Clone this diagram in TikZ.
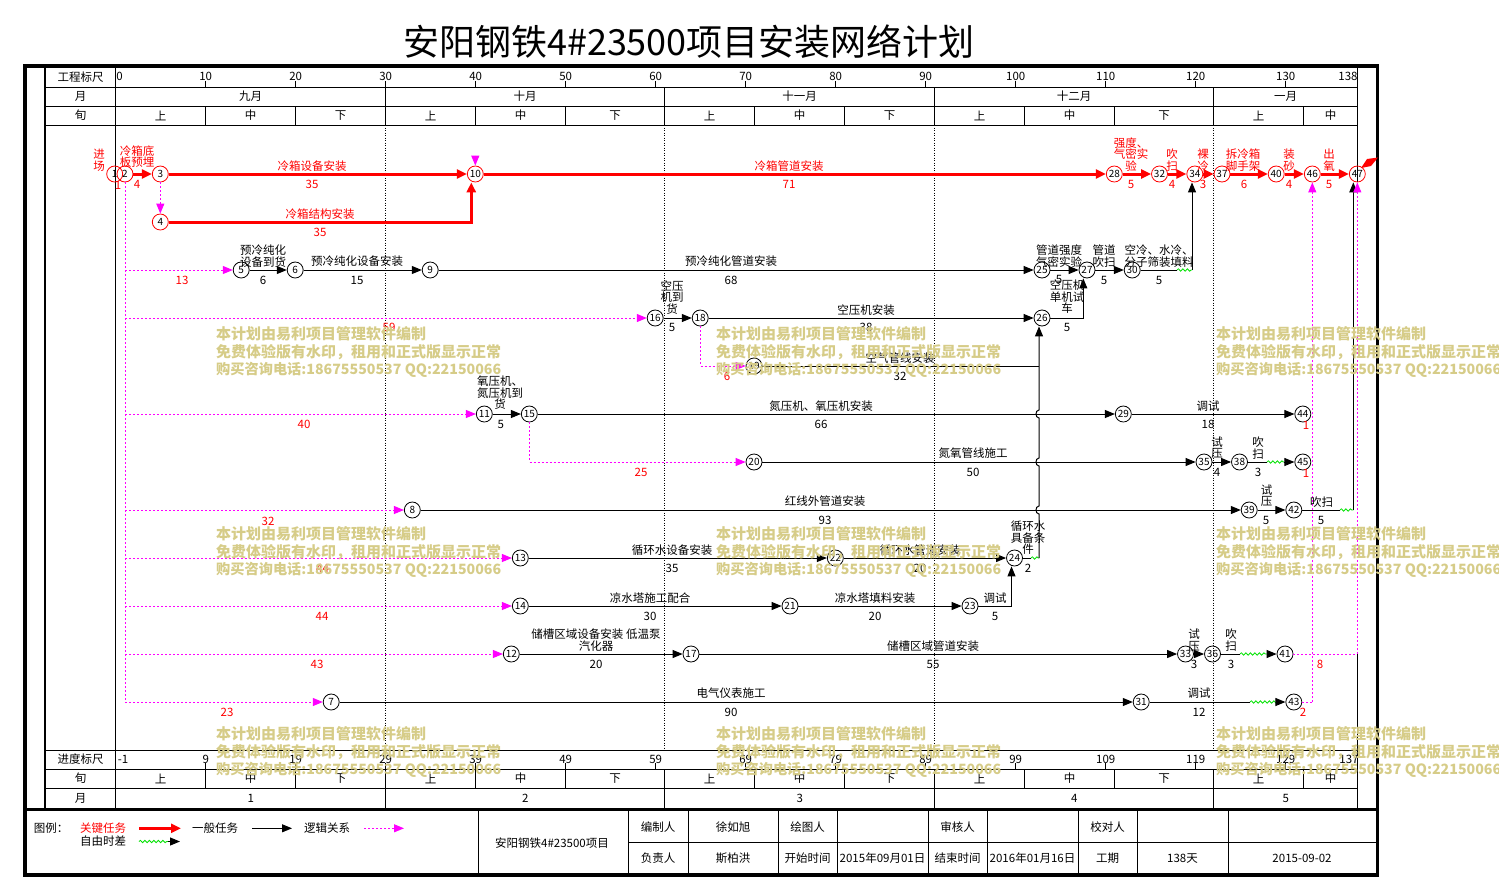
\documentclass[tikz,border=0pt]{standalone}
\usepackage{fontspec}
\setmainfont{Noto Sans CJK SC}
\usetikzlibrary{arrows.meta,decorations.pathmorphing}
\definecolor{mag}{RGB}{255,0,255}
\definecolor{wmc}{RGB}{214,204,136}
\definecolor{grn}{RGB}{0,225,0}
\tikzset{
  ev/.style={circle,draw,line width=0.8pt,minimum size=16pt,inner sep=0pt,font=\fontsize{10}{10}\selectfont},
  evr/.style={ev,draw=red},
  tx/.style={inner sep=0pt,align=center,font=\fontsize{11.5}{11.5}\selectfont},
  txr/.style={tx,text=red},
  numr/.style={tx,text=red},
  cedge/.style={draw=red,line width=3pt,-{Triangle[length=10pt,width=9pt]}},
  nedge/.style={draw=black,line width=1pt,-{Triangle[length=10pt,width=8pt]}},
  nline/.style={draw=black,line width=1pt},
  ledge/.style={draw=mag,line width=1pt,dash pattern=on 2pt off 2pt,-{Triangle[length=10pt,width=8pt]}},
  lline/.style={draw=mag,line width=1pt,dash pattern=on 2pt off 2pt},
  wavy/.style={draw=grn,line width=0.8pt,decorate,decoration={snake,amplitude=1.2pt,segment length=4.5pt}},
  grid/.style={line width=0.9pt},
  mdot/.style={line width=0.8pt,dash pattern=on 1pt off 1.5pt},
  wm/.style={text=wmc,font=\fontsize{15}{18}\selectfont\bfseries,anchor=west,inner sep=0pt},
  wmsmall/.style={wm,font=\fontsize{14.2}{18}\selectfont\bfseries},
}
\begin{document}
\begin{tikzpicture}[x=1pt,y=-1pt]
\useasboundingbox (0,0) rectangle (1499,878);
% title
\node[font=\fontsize{36}{36}\selectfont,inner sep=0pt] (title) at (689,42) {安阳钢铁4\#23500项目安装网络计划};
% frame
\draw[line width=3.5pt] (25,66) rectangle (1377.5,875);
\draw[line width=3pt] (25,809.5) -- (1377.5,809.5);
\draw[line width=1.5pt] (45,66) -- (45,809.5);
\draw[grid] (115.7,66) -- (115.7,809.5);
\draw[grid] (1357.3,66) -- (1357.3,182);
\draw[grid] (1357.3,654) -- (1357.3,809.5);
\foreach \y in {87,106,125,750,769,788} \draw[grid] (45,\y) -- (1357.3,\y);
% left column
\node[tx] (hc1) at (80.5,77) {工程标尺};
\node[tx] (hc2) at (80.5,96.5) {月};
\node[tx] (hc3) at (80.5,115.5) {旬};
\node[tx] (hc4) at (80.5,759) {进度标尺};
\node[tx] (hc5) at (80.5,778.5) {旬};
\node[tx] (hc6) at (80.5,798) {月};
% scales
\node[tx] (tt0) at (119.5,76.7) {0};
\node[tx] (tt14) at (1348,76.7) {138};
\node[tx] (tb0) at (123,759.3) {-1};
\node[tx] (tb14) at (1349,759.3) {137};
\foreach \k in {1,...,13}{
  \pgfmathsetmacro{\xx}{115.7+90*\k}
  \pgfmathtruncatemacro{\lt}{10*\k}
  \pgfmathtruncatemacro{\lb}{10*\k-1}
  \draw[grid] (\xx,81) -- (\xx,87);
  \draw[grid] (\xx,763) -- (\xx,769);
  \node[tx] (tt\k) at (\xx,76.7) {\lt};
  \node[tx] (tb\k) at (\xx,759.3) {\lb};
}
\foreach \d/\t [count=\i] in {5/上,15/中,25/下,35/上,45/中,55.5/下,66/上,76/中,86/下,96/上,106/中,116.5/下,127/上,135/中}{
  \node[tx] (xa\i) at (115.7+9*\d,115.5) {\t};
  \node[tx] (xb\i) at (115.7+9*\d,778.5) {\t};
}
\foreach \d/\t/\b [count=\i] in {15/九月/1,45.5/十月/2,76/十一月/3,106.5/十二月/4,130/一月/5}{
  \node[tx] (ma\i) at (115.7+9*\d,96.5) {\t};
  \node[tx] (mb\i) at (115.7+9*\d,798) {\b};
}
\foreach \d in {30,61,91,122}{
  \draw[grid] (115.7+9*\d,87) -- (115.7+9*\d,125);
  \draw[grid] (115.7+9*\d,769) -- (115.7+9*\d,809);
  \draw[mdot] (115.7+9*\d,125) -- (115.7+9*\d,750);
}
\foreach \d in {10,20,40,50,71,81,101,111,132}{
  \draw[grid] (115.7+9*\d,106) -- (115.7+9*\d,125);
  \draw[grid] (115.7+9*\d,769) -- (115.7+9*\d,788);
}
% ---------- events ----------
\node[evr] (n1) at (114.7,174) {1};
\node[evr] (n2) at (125,174) {2};
\node[evr] (n3) at (160.3,174) {3};
\node[evr] (n10) at (475.3,174) {10};
\node[evr] (n28) at (1114.3,174) {28};
\node[evr] (n32) at (1159.5,174) {32};
\node[evr] (n34) at (1194.8,174) {34};
\node[evr] (n37) at (1222,174) {37};
\node[evr] (n40) at (1276.2,174) {40};
\node[evr] (n46) at (1312.3,174) {46};
\node[evr] (n47) at (1357.3,174) {47};
\node[evr] (n4) at (160.3,222) {4};
\node[ev] (n5) at (241.2,270) {5};
\node[ev] (n6) at (295.2,270) {6};
\node[ev] (n9) at (430.2,270) {9};
\node[ev] (n25) at (1042,270) {25};
\node[ev] (n27) at (1087,270) {27};
\node[ev] (n30) at (1132.2,270) {30};
\node[ev] (n16) at (655.2,318) {16};
\node[ev] (n18) at (700.2,318) {18};
\node[ev] (n26) at (1042,318) {26};
\node[ev] (n19) at (754,366) {19};
\node[ev] (n11) at (484.3,414) {11};
\node[ev] (n15) at (529.3,414) {15};
\node[ev] (n29) at (1123.3,414) {29};
\node[ev] (n44) at (1302.8,414) {44};
\node[ev] (n20) at (754,462) {20};
\node[ev] (n35) at (1204,462) {35};
\node[ev] (n38) at (1239.5,462) {38};
\node[ev] (n45) at (1302.8,462) {45};
\node[ev] (n8) at (412.3,510) {8};
\node[ev] (n39) at (1249.2,510) {39};
\node[ev] (n42) at (1293.8,510) {42};
\node[ev] (n13) at (520.3,558) {13};
\node[ev] (n22) at (835.3,558) {22};
\node[ev] (n24) at (1014.5,558) {24};
\node[ev] (n14) at (520.3,606) {14};
\node[ev] (n21) at (790,606) {21};
\node[ev] (n23) at (970,606) {23};
\node[ev] (n12) at (511.3,654) {12};
\node[ev] (n17) at (691,654) {17};
\node[ev] (n33) at (1185.5,654) {33};
\node[ev] (n36) at (1212.5,654) {36};
\node[ev] (n41) at (1285,654) {41};
\node[ev] (n7) at (331.2,702) {7};
\node[ev] (n31) at (1141.2,702) {31};
\node[ev] (n43) at (1293.8,702) {43};
% helper coordinates
\coordinate (cL) at (125,702);
\coordinate (cR) at (1312.3,702);
\coordinate (cR2) at (1357.3,654);
\coordinate (c30a) at (1177,270);
\coordinate (c30b) at (1192,270);
\coordinate (c19) at (1039,366);
\coordinate (c24a) at (1031,558);
\coordinate (c24b) at (1039,558);
\coordinate (c38a) at (1267,462);
\coordinate (c38b) at (1284,462);
\coordinate (c42a) at (1340,510);
\coordinate (c42b) at (1353.3,510);
\coordinate (c36a) at (1240,654);
\coordinate (c36b) at (1267,654);
\coordinate (c31a) at (1250,702);
\coordinate (c31b) at (1283,702);
% ---------- critical ----------
\draw[cedge] (n2) -- (n3);
\draw[cedge] (n3) -- (n10);
\draw[cedge] (n10) -- (n28);
\draw[cedge] (n28) -- (n32);
\draw[cedge] (n32) -- (n34);
\draw[cedge] (n34) -- (n37);
\draw[cedge] (n37) -- (n40);
\draw[cedge] (n40) -- (n46);
\draw[cedge] (n46) -- (n47);
\draw[cedge] (n4) -| ([xshift=-4pt]n10.south);
\fill[red] (1361,168) -- (1367,159) -- (1378,157.5) -- (1371,166) -- cycle;
% ---------- normal ----------
\draw[nedge] (n5) -- (n6);
\draw[nedge] (n6) -- (n9);
\draw[nedge] (n9) -- (n25);
\draw[nedge] (n25) -- (n27);
\draw[nedge] (n27) -- (n30);
\draw[nline] (n30) -- (c30a);
\draw[wavy] (c30a) -- (c30b);
\draw[nedge] (c30b) -- (c30b |- n34.south);
\draw[nedge] (n16) -- (n18);
\draw[nedge] (n18) -- (n26);
\draw[nedge] (n26) -| ([xshift=-3.7pt]n27.south);
\draw[nline] (n19) -- (c19);
\draw[nline] (n24) -- (c24a);
\draw[wavy] (c24a) -- (c24b);
\draw[nedge] (c24b) -- (1039,514) .. controls (1035,514) and (1035,506) .. (1039,506)
  -- (1039,466) .. controls (1035,466) and (1035,458) .. (1039,458)
  -- (1039,418) .. controls (1035,418) and (1035,410) .. (1039,410)
  -- (c24b |- n26.south);
\draw[nedge] (n11) -- (n15);
\draw[nedge] (n15) -- (n29);
\draw[nedge] (n29) -- (n44);
\draw[nedge] (n20) -- (n35);
\draw[nedge] (n35) -- (n38);
\draw[nline] (n38) -- (c38a);
\draw[wavy] (c38a) -- (c38b);
\draw[nedge] (c38b) -- (n45);
\draw[nedge] (n8) -- (n39);
\draw[nedge] (n39) -- (n42);
\draw[nline] (n42) -- (c42a);
\draw[wavy] (c42a) -- (c42b);
\draw[nedge] (c42b) -- (c42b |- n47.south);
\draw[nedge] (n13) -- (n22);
\draw[nedge] (n22) -- (n24);
\draw[nedge] (n14) -- (n21);
\draw[nedge] (n21) -- (n23);
\draw[nedge] (n23) -| ([xshift=-3pt]n24.south);
\draw[nedge] (n12) -- (n17);
\draw[nedge] (n17) -- (n33);
\draw[nedge] (n33) -- (n36);
\draw[nline] (n36) -- (c36a);
\draw[wavy] (c36a) -- (c36b);
\draw[nedge] (c36b) -- (n41);
\draw[nedge] (n7) -- (n31);
\draw[nline] (n31) -- (c31a);
\draw[wavy] (c31a) -- (c31b);
\draw[nedge] (c31b) -- (n43);
% ---------- logic ----------
\draw[ledge] (n3) -- (n4);
\draw[ledge] ([yshift=10pt]n10.north) -- (n10.north);
\draw[lline] (n2) -- (cL);
\foreach \t in {n5,n16,n11,n8,n13,n14,n12,n7} \draw[ledge] (cL |- \t) -- (\t);
\draw[ledge] (n15) |- (n20);
\draw[ledge] (n18) |- (n19);
\draw[lline] (n43) -- (cR);
\draw[ledge] (cR) -- (n46);
\draw[ledge] (n41) -- (cR2) -- (n47);
% ---------- labels ----------
\node[txr] (a1) at (99,160) {进\\场};
\node[numr] (a1d) at (118,185) {1};
\node[txr] (a2) at (137,156.5) {冷箱底\\板预埋};
\node[numr] (a2d) at (137,184) {4};
\node[txr] (a3) at (312,166) {冷箱设备安装};
\node[numr] (a3d) at (312,184) {35};
\node[txr] (a4) at (789,166) {冷箱管道安装};
\node[numr] (a4d) at (789,184) {71};
\node[txr] (a5) at (1131,154.5) {强度、\\气密实\\验};
\node[numr] (a5d) at (1131,184) {5};
\node[txr] (a6) at (1172,160) {吹\\扫};
\node[numr] (a6d) at (1172,184) {4};
\node[txr] (a7) at (1203,160) {裸\\冷};
\node[numr] (a7d) at (1203,184) {3};
\node[txr] (a8) at (1243,160) {拆冷箱\\脚手架};
\node[numr] (a8d) at (1244,184) {6};
\node[txr] (a9) at (1289,160) {装\\砂};
\node[numr] (a9d) at (1289,184) {4};
\node[txr] (a10) at (1329,160) {出\\氧};
\node[numr] (a10d) at (1329,184) {5};
\node[txr] (b1) at (320,214) {冷箱结构安装};
\node[numr] (b1d) at (320,232) {35};
\node[tx] (c1) at (263,256) {预冷纯化\\设备到货};
\node[tx] (c1d) at (263,280) {6};
\node[tx] (c2) at (357,261) {预冷纯化设备安装};
\node[tx] (c2d) at (357,280) {15};
\node[tx] (c3) at (731,261) {预冷纯化管道安装};
\node[tx] (c3d) at (731,280) {68};
\node[tx] (c4) at (1059,256) {管道强度\\气密实验};
\node[tx] (c4d) at (1059,279) {5};
\node[tx] (c5) at (1104,256) {管道\\吹扫};
\node[tx] (c5d) at (1104,280) {5};
\node[tx] (c6) at (1159,256) {空冷、水冷、\\分子筛装填料};
\node[tx] (c6d) at (1159,280) {5};
\node[numr] (c0) at (182,280) {13};
\node[tx] (d1) at (672,297.5) {空压\\机到\\货};
\node[tx] (d1d) at (672,327.7) {5};
\node[tx] (d2) at (866,310) {空压机安装};
\node[tx] (d2d) at (866,327.7) {38};
\node[tx] (d3) at (1067,297) {空压机\\单机试\\车};
\node[tx] (d3d) at (1067,327.7) {5};
\node[numr] (d0) at (389,327.7) {59};
\node[tx] (e1) at (900,358) {空气管线安装};
\node[tx] (e1d) at (900,376) {32};
\node[numr] (e0) at (727,376) {6};
\node[tx] (f1) at (500,393) {氧压机、\\氮压机到\\货};
\node[tx] (f1d) at (500.7,424) {5};
\node[tx] (f2) at (821,406) {氮压机、氧压机安装};
\node[tx] (f2d) at (821,424) {66};
\node[tx] (f3) at (1208,406) {调试};
\node[tx] (f3d) at (1208,424) {18};
\node[numr] (f0) at (304,424) {40};
\node[numr] (f4) at (1306,425) {1};
\node[tx] (g1) at (973,453) {氮氧管线施工};
\node[tx] (g1d) at (973,472) {50};
\node[tx] (g2) at (1217,447.5) {试\\压};
\node[tx] (g2d) at (1217,472) {4};
\node[tx] (g3) at (1258,448) {吹\\扫};
\node[tx] (g3d) at (1258,472) {3};
\node[numr] (g0) at (641,472) {25};
\node[numr] (g4) at (1306,473) {1};
\node[tx] (h1) at (825,501) {红线外管道安装};
\node[tx] (h1d) at (825,520) {93};
\node[tx] (h2) at (1266.7,495.5) {试\\压};
\node[tx] (h2d) at (1266,520) {5};
\node[tx] (h3) at (1321.7,501.7) {吹扫};
\node[tx] (h3d) at (1321,520) {5};
\node[numr] (h0) at (268,521) {32};
\node[tx] (i1) at (672,550) {循环水设备安装};
\node[tx] (i1d) at (672,568) {35};
\node[tx] (i2) at (920,550) {循环水管道安装};
\node[tx] (i2d) at (920,568) {20};
\node[tx] (i3) at (1028,537.7) {循环水\\具备条\\件};
\node[tx] (i3d) at (1028,568) {2};
\node[numr] (i0) at (322.5,568) {44};
\node[tx] (j1) at (650,597.7) {凉水塔施工配合};
\node[tx] (j1d) at (650,616) {30};
\node[tx] (j2) at (875,597.7) {凉水塔填料安装};
\node[tx] (j2d) at (875,616) {20};
\node[tx] (j3) at (995,597.7) {调试};
\node[tx] (j3d) at (995,616) {5};
\node[numr] (j0) at (322,616) {44};
\node[tx] (k1) at (596,640) {储槽区域设备安装\ 低温泵\\汽化器};
\node[tx] (k1d) at (596,664) {20};
\node[tx] (k2) at (933,645.7) {储槽区域管道安装};
\node[tx] (k2d) at (933,664) {55};
\node[tx] (k3) at (1194,640) {试\\压};
\node[tx] (k3d) at (1194,664) {3};
\node[tx] (k4) at (1231,640) {吹\\扫};
\node[tx] (k4d) at (1231,664) {3};
\node[numr] (k0) at (317,664) {43};
\node[numr] (k5) at (1320,664) {8};
\node[tx] (l1) at (731,693) {电气仪表施工};
\node[tx] (l1d) at (731,712) {90};
\node[tx] (l2) at (1199,693) {调试};
\node[tx] (l2d) at (1199,712) {12};
\node[numr] (l0) at (227,712) {23};
\node[numr] (l3) at (1303,712) {2};
% ---------- legend ----------
\node[tx] (lg0) at (51,828.3) {图例：};
\node[txr] (lg1) at (103,828.3) {关键任务};
\coordinate (lr1) at (139,828.3); \coordinate (lr2) at (181,828.3);
\draw[cedge] (lr1) -- (lr2);
\node[tx] (lg2) at (215,828.3) {一般任务};
\coordinate (lb1) at (252,828.3); \coordinate (lb2) at (292,828.3);
\draw[nedge] (lb1) -- (lb2);
\node[tx] (lg3) at (327,828.3) {逻辑关系};
\coordinate (lm1) at (364,828.3); \coordinate (lm2) at (404,828.3);
\draw[ledge] (lm1) -- (lm2);
\node[tx] (lg4) at (103,841.5) {自由时差};
\coordinate (lw1) at (139,841.5); \coordinate (lw2) at (168,841.5); \coordinate (lw3) at (180,841.5);
\draw[wavy] (lw1) -- (lw2);
\draw[nedge] (lw2) -- (lw3);
% ---------- title block ----------
\foreach \x in {478,628,688,778,837,928,987,1078,1137,1228} \draw[grid] (\x,809.5) -- (\x,875);
\draw[grid] (628,842) -- (1377.5,842);
\node[tx] (tb_p) at (552,843) {安阳钢铁4\#23500项目};
\node[tx] (r1a) at (658,826.7) {编制人};
\node[tx] (r1b) at (733,826.7) {徐如旭};
\node[tx] (r1c) at (807.5,826.7) {绘图人};
\node[tx] (r1d) at (957.5,826.7) {审核人};
\node[tx] (r1e) at (1107.5,826.7) {校对人};
\node[tx] (r2a) at (658,858.3) {负责人};
\node[tx] (r2b) at (733,858.3) {斯柏洪};
\node[tx] (r2c) at (807.5,858.3) {开始时间};
\node[tx] (r2d) at (882.5,858.3) {2015年09月01日};
\node[tx] (r2e) at (957.5,858.3) {结束时间};
\node[tx] (r2f) at (1032.5,858.3) {2016年01月16日};
\node[tx] (r2g) at (1107.5,858.3) {工期};
\node[tx] (r2h) at (1182.5,858.3) {138天};
\node[tx] (r2i) at (1302,858.3) {2015-09-02};
% ---------- watermarks ----------
\foreach \x in {216,716,1216}{
  \foreach \y in {334,534,734}{
    \node[wm] (wa-\x-\y) at (\x,\y) {本计划由易利项目管理软件编制};
    \node[wm] (wb-\x-\y) at (\x,\y+18) {免费体验版有水印，租用和正式版显示正常};
    \node[wmsmall] (wc-\x-\y) at (\x,\y+36) {购买咨询电话:18675550537 QQ:22150066};
  }
}
\end{tikzpicture}
\end{document}
